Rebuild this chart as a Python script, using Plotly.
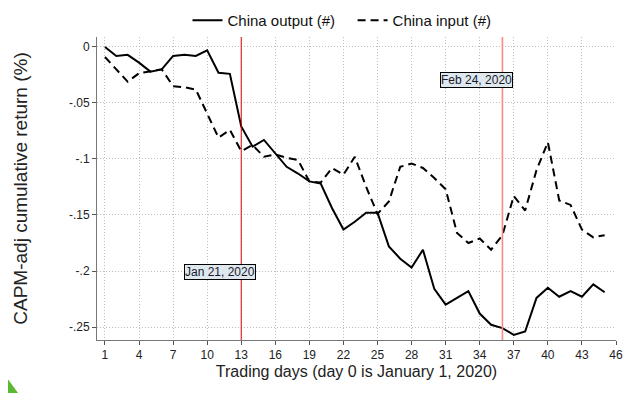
import plotly.graph_objects as go

days = list(range(1, 46))
china_output = [0.0, -0.008, -0.007, -0.014, -0.022, -0.020, -0.008, -0.007, -0.008, -0.003,
                -0.023, -0.024, -0.071, -0.089, -0.083, -0.095, -0.107, -0.113, -0.120, -0.122,
                -0.144, -0.163, -0.156, -0.148, -0.148, -0.178, -0.189, -0.197, -0.181, -0.216,
                -0.230, -0.224, -0.218, -0.238, -0.248, -0.251, -0.257, -0.254, -0.224, -0.215,
                -0.223, -0.218, -0.223, -0.212, -0.219]
china_input = [-0.009, -0.020, -0.031, -0.0235, -0.022, -0.020, -0.035, -0.036, -0.038, -0.059,
               -0.081, -0.074, -0.093, -0.0875, -0.098, -0.096, -0.099, -0.101, -0.120, -0.121,
               -0.108, -0.114, -0.098, -0.125, -0.149, -0.138, -0.107, -0.104, -0.108, -0.117,
               -0.127, -0.166, -0.175, -0.171, -0.181, -0.168, -0.133, -0.146, -0.110, -0.085,
               -0.137, -0.141, -0.163, -0.170, -0.168]
x_ticks = list(range(1, 47, 3))
y_ticks = [0, -0.05, -0.1, -0.15, -0.2, -0.25]
y_tick_labels = ["0", "-.05", "-.1", "-.15", "-.2", "-.25"]
event_days = [13, 36]
event_labels = ["Jan 21, 2020", "Feb 24, 2020"]
label_pos = [(11.1, -0.2013), (33.75, -0.0298)]

font = "Liberation Sans, Arial, sans-serif"
OFF = 8  # page body margin
W, H = 640 - OFF, 393 - OFF
L, R, T, B = 97 - OFF, 616 - OFF, 37 - OFF, 340 - OFF

fig = go.Figure()
fig.add_trace(go.Scatter(x=days, y=china_output, mode="lines", name="China output (#)\u00a0\u00a0\u00a0",
                         line=dict(color="black", width=2)))
fig.add_trace(go.Scatter(x=days, y=china_input, mode="lines", name="China input (#)",
                         line=dict(color="black", width=2, dash="8px,5px")))

fig.add_shape(type="line", x0=event_days[0], x1=event_days[0], y0=0, y1=1, yref="paper",
              line=dict(color="#e00000", width=1), layer="above")
fig.add_shape(type="line", x0=event_days[1], x1=event_days[1], y0=0, y1=1, yref="paper",
              line=dict(color="#f58a8a", width=1.6), layer="above")

for (lx, ly), txt in zip(label_pos, event_labels):
    fig.add_annotation(x=lx, y=ly, text=txt, showarrow=False,
                       font=dict(family=font, size=12, color="#1a1a2a"),
                       bgcolor="#dfe8ef", bordercolor="black", borderwidth=1, borderpad=0)

def px(x):
    return (x - OFF - L) / (R - L)
def py(y):
    return (B - (y - OFF)) / (B - T)
path = f"M {px(0)},{py(378)} L {px(5)},{py(375)} L {px(18)},{py(393)} L {px(0)},{py(393)} Z"
fig.add_shape(type="path", path=path, xref="paper", yref="paper",
              fillcolor="#5cb82e", line=dict(width=0))

fig.update_layout(
    width=W, height=H,
    margin=dict(l=L, r=W - R, t=T, b=H - B, autoexpand=False),
    paper_bgcolor="white", plot_bgcolor="white",
    font=dict(family=font, color="#222"),
    showlegend=True,
    legend=dict(orientation="h", x=px(342), xanchor="center", y=1.0, yanchor="bottom",
                font=dict(size=15, family=font, color="#111"), itemwidth=30,
                bgcolor="rgba(0,0,0,0)"),
    xaxis=dict(range=[0.3, 46], tickvals=x_ticks, ticks="outside", ticklen=4,
               tickcolor="#555", showline=True, linecolor="#777", linewidth=1,
               showgrid=True, gridcolor="#bdbdbd", griddash="1px,2px", gridwidth=1,
               zeroline=False, tickfont=dict(size=12, family=font, color="#222"),
               title=dict(text="Trading days (day 0 is January 1, 2020)",
                          font=dict(size=16, family=font, color="#222"), standoff=4)),
    yaxis=dict(range=[-0.2616, 0.0089], tickvals=y_ticks, ticktext=y_tick_labels,
               ticks="outside", ticklen=4, tickcolor="#555", showline=True,
               linecolor="#777", linewidth=1, showgrid=True, gridcolor="#bdbdbd",
               griddash="1px,2px", gridwidth=1, zeroline=False,
               tickfont=dict(size=12, family=font, color="#222"),
               title=dict(text="CAPM-adj cumulative return (%)",
                          font=dict(size=19, family=font, color="#222"), standoff=36)),
)
fig.write_html("out.html")
